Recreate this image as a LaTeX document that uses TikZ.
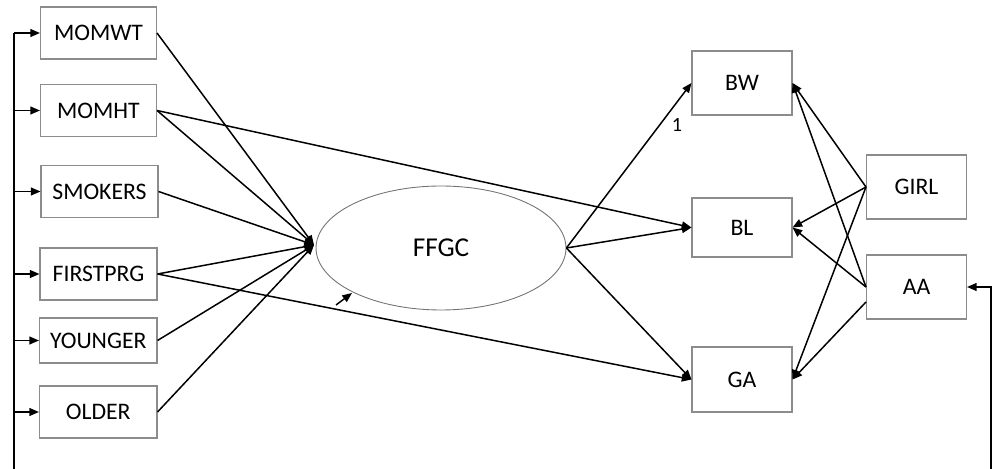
\documentclass[tikz,border=0pt]{standalone}
\usepackage{fontspec}
\setmainfont{Carlito}
\usetikzlibrary{shapes.geometric,arrows.meta}
\begin{document}
\begin{tikzpicture}[x=0.02cm,y=-0.02cm,
  box/.style={draw=black!45,line width=0.6pt,inner sep=0pt,font=\fontsize{13.5}{15}\selectfont},
  lbox/.style={box,minimum width=2.32cm,minimum height=1.04cm},
  rbox/.style={box,minimum width=2cm,minimum height=1.28cm},
  arr/.style={line width=0.85pt,-{Triangle[length=5.5pt,width=4.5pt]}},
  ln/.style={line width=0.85pt}]
\useasboundingbox (0,0) rectangle (995,469);
\node[lbox] (momwt) at (98.5,33) {MOMWT};
\node[lbox] (momht) at (98.5,110.5) {MOMHT};
\node[lbox,minimum width=2.34cm] (smokers) at (99.5,191.5) {SMOKERS};
\node[lbox,minimum width=2.34cm] (firstprg) at (98.5,274) {FIRSTPRG};
\node[lbox,minimum width=2.35cm,minimum height=0.9cm] (younger) at (98.25,340.5) {YOUNGER};
\node[lbox,minimum width=2.35cm] (older) at (98.25,412) {OLDER};
\node[ellipse,draw=black!55,line width=0.5pt,minimum width=5cm,minimum height=2.48cm,inner sep=0pt,font=\fontsize{15.5}{17}\selectfont] (ffgc) at (441,248) {FFGC};
\node[rbox] (bw) at (742,83) {BW};
\node[rbox,minimum height=1.18cm] (bl) at (742,227.5) {BL};
\node[rbox,minimum height=1.3cm] (ga) at (742,379.5) {GA};
\node[rbox,minimum height=1.28cm] (girl) at (916.5,187) {GIRL};
\node[rbox,minimum height=1.28cm] (aa) at (916.5,287) {AA};
\node[inner sep=0pt,font=\fontsize{11.5}{13}\selectfont] (one) at (677,125) {1};
\coordinate (conv) at (314,245);
\coordinate (lbot) at (14,469);
\coordinate (rbot) at (991,469);
\coordinate (aalow) at (866,302);
\coordinate (errs) at (336,305);
\coordinate (erre) at (352,293);
% left bus
\draw[ln] (lbot) -- (lbot |- momwt.west);
\foreach \b in {momwt,momht,smokers,firstprg,younger,older}
  \draw[arr] (lbot |- \b.west) -- (\b.west);
% right bus
\draw[arr] (rbot) |- (aa.east);
% into FFGC
\foreach \b in {momwt,momht,smokers,firstprg,younger,older}
  \draw[arr] (\b.east) -- (conv);
\draw[arr] (errs) -- (erre);
% direct paths
\draw[arr] (momht.east) -- (bl.west);
\draw[arr] (firstprg.east) -- (ga.west);
\draw[arr] (ffgc.east) -- (bw.west);
\draw[arr] (ffgc.east) -- (bl.west);
\draw[arr] (ffgc.east) -- (ga.west);
% covariates
\draw[arr] (girl.west) -- (bw.east);
\draw[arr] (girl.west) -- (bl.east);
\draw[arr] (girl.west) -- (ga.east);
\draw[arr] (aa.west) -- (bw.east);
\draw[arr] (aa.west) -- (bl.east);
\draw[arr] (aalow) -- (ga.east);
\end{tikzpicture}
\end{document}
